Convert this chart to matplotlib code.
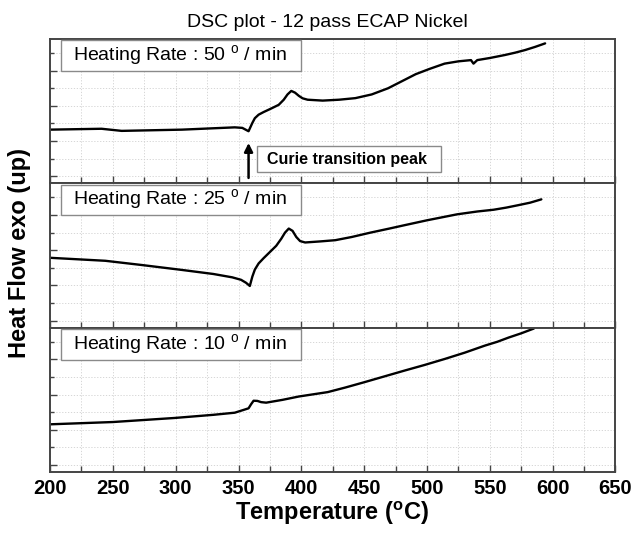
import numpy as np
import matplotlib.pyplot as plt
from matplotlib.patches import Rectangle
from matplotlib.ticker import MultipleLocator, FixedLocator

plt.rcParams['font.family'] = ['Liberation Sans', 'DejaVu Sans']
plt.rcParams['mathtext.fontset'] = 'custom'
plt.rcParams['mathtext.rm'] = 'Liberation Sans'

# ---- data (arbitrary heat-flow units per panel) ----
rates = [50, 25, 10]

t50 = [200, 241, 257, 305, 347, 353, 358, 361, 363, 366, 370, 376, 382, 386, 389,
       392, 395, 398, 401, 405, 417, 430, 443, 456, 469, 480, 491, 502, 514, 525,
       535, 537, 540, 550, 562, 570, 578, 586, 594]
q50 = [3.05, 3.1, 2.98, 3.05, 3.18, 3.15, 2.96, 3.43, 3.7, 3.9, 4.05, 4.25, 4.46, 4.75, 5.05,
       5.25, 5.15, 4.97, 4.83, 4.75, 4.7, 4.75, 4.84, 5.05, 5.4, 5.8, 6.2, 6.5, 6.8, 6.93,
       7.0, 6.8, 7.0, 7.12, 7.29, 7.42, 7.57, 7.75, 7.95]

t25 = [200, 244, 273, 305, 330, 345, 352, 356, 359, 361, 363, 366, 370, 375, 380,
       384, 387, 390, 393, 396, 399, 403, 415, 427, 440, 455, 470, 482, 500, 524,
       540, 553, 563, 572, 582, 591]
q25 = [3.97, 3.8, 3.56, 3.28, 3.05, 2.86, 2.72, 2.55, 2.37, 2.9, 3.3, 3.65, 3.95, 4.3, 4.65,
       5.05, 5.4, 5.63, 5.5, 5.15, 4.92, 4.84, 4.9, 4.97, 5.15, 5.4, 5.63, 5.82, 6.1, 6.44,
       6.6, 6.7, 6.82, 6.95, 7.1, 7.29]

t10 = [200, 250, 299, 330, 347, 355, 358, 360, 362, 365, 368, 372, 385, 398, 421,
       435, 450, 466, 482, 498, 514, 530, 546, 556, 565, 575, 585]
q10 = [2.71, 2.84, 3.07, 3.25, 3.37, 3.55, 3.62, 3.85, 4.05, 4.04, 3.97, 3.94, 4.1, 4.29, 4.54,
       4.8, 5.1, 5.43, 5.76, 6.08, 6.42, 6.78, 7.18, 7.4, 7.64, 7.88, 8.15]

series = [(t50, q50), (t25, q25), (t10, q10)]

curie_T = 358
x_ticks = [200, 250, 300, 350, 400, 450, 500, 550, 600, 650]

# ---- figure ----
fig, axes = plt.subplots(3, 1, sharex=True, figsize=(6.34, 5.37), dpi=100)
fig.subplots_adjust(left=0.0789, right=0.9708, bottom=0.121, top=0.9274, hspace=0)

spine_col = '#444444'
for ax, rate, (tt, qq) in zip(axes, rates, series):
    ax.plot(tt, qq, color='black', lw=1.7, solid_joinstyle='round',
            solid_capstyle='round')
    ax.set_xlim(200, 650)
    ax.set_ylim(0, 8.2)
    ax.yaxis.set_major_locator(FixedLocator([0.4, 2.4, 4.4, 6.4]))
    ax.yaxis.set_minor_locator(FixedLocator([1.4, 3.4, 5.4, 7.4]))
    ax.xaxis.set_major_locator(FixedLocator(x_ticks))
    ax.xaxis.set_minor_locator(MultipleLocator(25))
    ax.tick_params(axis='both', which='both', direction='in', color=spine_col,
                   top=False, right=False, labelleft=False)
    ax.tick_params(axis='y', which='major', length=5, width=1.0)
    ax.tick_params(axis='y', which='minor', length=3, width=1.0)
    ax.tick_params(axis='x', which='major', length=5, width=1.0)
    ax.tick_params(axis='x', which='minor', length=4, width=1.0)
    ax.grid(which='both', ls=(0, (1.5, 2)), color='#d0d0d0', lw=0.6)
    for s in ax.spines.values():
        s.set_color(spine_col)
        s.set_linewidth(1.4)

    ax.add_patch(Rectangle((0.0195, 0.778), 0.425, 0.212, transform=ax.transAxes,
                           facecolor='white', edgecolor='#8a8a8a', lw=1.0, zorder=4))
    ax.text(0.041, 0.884, f'Heating Rate : {rate} $^{{\\mathregular{{o}}}}$ / min',
            transform=ax.transAxes, fontsize=14, va='center', ha='left', zorder=5)

axes[2].tick_params(axis='x', labelsize=14.5, pad=5)
for lab in axes[2].get_xticklabels():
    lab.set_fontweight('bold')

# Curie annotation in the top panel
ax0 = axes[0]
ax0.annotate('', xy=(curie_T, 2.45), xytext=(curie_T, 0.15),
             arrowprops=dict(arrowstyle='-|>,head_length=0.5,head_width=0.25',
                             color='black', lw=1.8), zorder=5)
ax0.add_patch(Rectangle((0.366, 0.076), 0.325, 0.186, transform=ax0.transAxes,
                        facecolor='white', edgecolor='#8a8a8a', lw=1.0, zorder=4))
ax0.text(0.383, 0.168, 'Curie transition peak', transform=ax0.transAxes,
         fontsize=11.5, fontweight='bold', va='center', ha='left', zorder=5)

fig.text(0.516, 0.959, 'DSC plot - 12 pass ECAP Nickel', ha='center', va='center',
         fontsize=14)
fig.text(0.524, 0.018, 'Temperature ($^{\\mathregular{o}}$C)', ha='center', va='bottom',
         fontsize=17, fontweight='bold')
fig.text(0.03, 0.528, 'Heat Flow exo (up)', rotation=90, ha='center', va='center',
         fontsize=17, fontweight='bold')

fig.savefig('out.png', dpi=100)
